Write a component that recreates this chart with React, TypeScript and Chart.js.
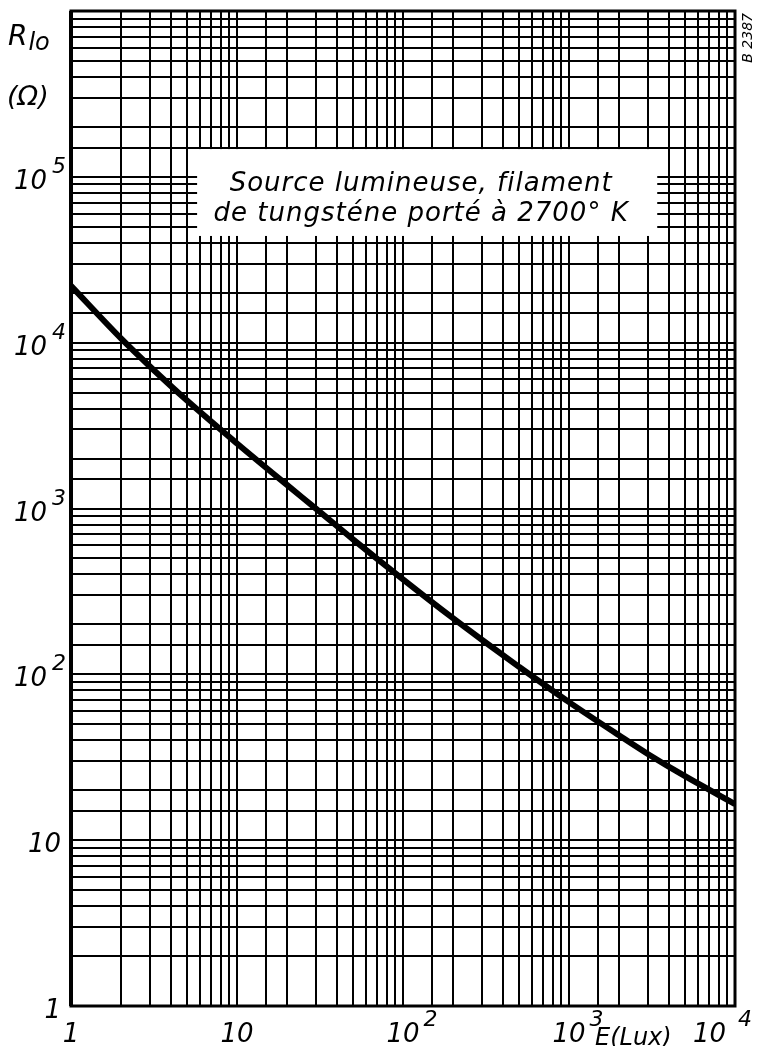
import React, { useEffect, useRef } from "react";
import { Chart, registerables } from "chart.js";

Chart.register(...registerables);

// Illuminance E (lux) and resistance R_lo (ohm)
const illuminance = [1, 2, 3, 5, 10, 20, 30, 50, 100, 200, 300, 500, 1000, 2000, 3000, 5000, 10000];
const resistance = [22000, 10600, 7160, 4475, 2466, 1387, 995, 652, 374, 218, 161, 111, 68, 42.9, 33, 24.3, 16.5];

// Decade tick labels: [value, base, exponent]
const xTickLabels: [number, string, string][] = [
  [1, "1", ""],
  [10, "10", ""],
  [100, "10", "2"],
  [1000, "10", "3"],
  [10000, "10", "4"],
];
const yTickLabels: [number, string, string][] = [
  [1, "1", ""],
  [10, "10", ""],
  [100, "10", "2"],
  [1000, "10", "3"],
  [10000, "10", "4"],
  [100000, "10", "5"],
];

const xTitle = "E(Lux)";
const yTitleMain = "R";
const yTitleSub = "lo";
const yUnit = "(Ω)";
const noteLines = ["Source lumineuse, filament", "de tungsténe porté à 2700° K"];
const drawingRef = "B 2387";

// Note box extent in data coordinates
const noteBoxX = [5.75, 3400];
const noteBoxY = [44000, 147000];

const FONT = "'DejaVu Sans', sans-serif";

const decorPlugin = {
  id: "decor",
  beforeDatasetsDraw(chart: any) {
    const { ctx, scales } = chart;
    const xs = scales.x;
    const ys = scales.y;
    const x0 = xs.getPixelForValue(noteBoxX[0]);
    const x1 = xs.getPixelForValue(noteBoxX[1]);
    const y0 = ys.getPixelForValue(noteBoxY[1]);
    const y1 = ys.getPixelForValue(noteBoxY[0]);
    ctx.save();
    ctx.fillStyle = "#fff";
    ctx.fillRect(x0, y0, x1 - x0, y1 - y0);
    ctx.fillStyle = "#000";
    ctx.font = `oblique 26px ${FONT}`;
    (ctx as any).letterSpacing = "1px";
    ctx.textAlign = "center";
    ctx.textBaseline = "alphabetic";
    const cx = (x0 + x1) / 2 - 6;
    ctx.fillText(noteLines[0], cx, y0 + 42);
    ctx.fillText(noteLines[1], cx, y0 + 72);
    ctx.restore();
  },
  afterDraw(chart: any) {
    const { ctx, scales, chartArea } = chart;
    const xs = scales.x;
    const ys = scales.y;
    ctx.save();
    // frame
    ctx.strokeStyle = "#000";
    ctx.lineWidth = 3;
    ctx.strokeRect(chartArea.left, chartArea.top, chartArea.right - chartArea.left, chartArea.bottom - chartArea.top);
    ctx.lineWidth = 4;
    ctx.beginPath();
    ctx.moveTo(chartArea.left, chartArea.top);
    ctx.lineTo(chartArea.left, chartArea.bottom);
    ctx.stroke();

    ctx.fillStyle = "#000";
    ctx.textBaseline = "alphabetic";
    // y labels
    for (const [v, base, exp] of yTickLabels) {
      const py = ys.getPixelForValue(v);
      ctx.font = `oblique 26px ${FONT}`;
      const bw = ctx.measureText(base).width;
      ctx.font = `oblique 22px ${FONT}`;
      const ew = exp ? ctx.measureText(exp).width + 4 : 0;
      const right = exp ? chartArea.left - 6 : chartArea.left - 10;
      const bx = right - ew - bw;
      ctx.font = `oblique 26px ${FONT}`;
      ctx.textAlign = "left";
      ctx.fillText(base, bx, py + 12);
      if (exp) {
        ctx.font = `oblique 22px ${FONT}`;
        ctx.fillText(exp, bx + bw + 5, py - 4);
      }
    }
    // x labels
    const by = chartArea.bottom + 36;
    for (const [v, base, exp] of xTickLabels) {
      const px = xs.getPixelForValue(v);
      ctx.font = `oblique 26px ${FONT}`;
      const bw = ctx.measureText(base).width;
      ctx.textAlign = "left";
      let bx = px - bw / 2;
      if (v === 10000) bx = px - 42;
      ctx.fillText(base, bx, by);
      if (exp) {
        ctx.font = `oblique 22px ${FONT}`;
        ctx.fillText(exp, bx + bw + (v === 10000 ? 12 : 4), by - 16);
      }
    }
    // x title
    ctx.font = `oblique 24px ${FONT}`;
    ctx.textAlign = "left";
    ctx.fillText(xTitle, chartArea.right - 140, by + 3);
    // y title
    ctx.font = `oblique 28px ${FONT}`;
    ctx.fillText(yTitleMain, 8, 45);
    const rw = ctx.measureText(yTitleMain).width;
    ctx.font = `oblique 24px ${FONT}`;
    ctx.fillText(yTitleSub, 8 + rw + 1, 50);
    ctx.font = `oblique 27px ${FONT}`;
    ctx.fillText(yUnit, 7, 105);
    // drawing reference
    ctx.translate(chartArea.right + 17, chartArea.top);
    ctx.rotate(-Math.PI / 2);
    ctx.font = `oblique 14px ${FONT}`;
    ctx.textAlign = "right";
    ctx.fillText(drawingRef, -2, 0);
    ctx.restore();
  },
};

export default function App() {
  const canvasRef = useRef<HTMLCanvasElement>(null);
  useEffect(() => {
    document.body.style.margin = "0";
    const canvas = canvasRef.current!;
    const chart = new Chart(canvas, {
      type: "line",
      data: {
        datasets: [
          {
            data: illuminance.map((x, i) => ({ x, y: resistance[i] })),
            borderColor: "#000",
            borderWidth: 6,
            pointRadius: 0,
            cubicInterpolationMode: "monotone",
            fill: false,
          },
        ],
      },
      options: {
        responsive: false,
        animation: false,
        events: [],
        layout: { padding: { left: 71, top: 11, right: 28, bottom: 40 } },
        plugins: { legend: { display: false }, tooltip: { enabled: false } },
        scales: {
          x: {
            type: "logarithmic",
            min: 1,
            max: 10000,
            ticks: { display: false, autoSkip: false },
            grid: { color: "#000", lineWidth: 2, drawTicks: false, tickLength: 0 },
            border: { display: false },
          },
          y: {
            type: "logarithmic",
            min: 1,
            max: 1000000,
            ticks: { display: false, autoSkip: false },
            grid: { color: "#000", lineWidth: 2, drawTicks: false, tickLength: 0 },
            border: { display: false },
          },
        },
      },
      plugins: [decorPlugin],
    });
    return () => chart.destroy();
  }, []);
  return (
    <div style={{ width: 763, height: 1046, background: "#fff" }}>
      <canvas ref={canvasRef} width={763} height={1046} style={{ display: "block" }} />
    </div>
  );
}
